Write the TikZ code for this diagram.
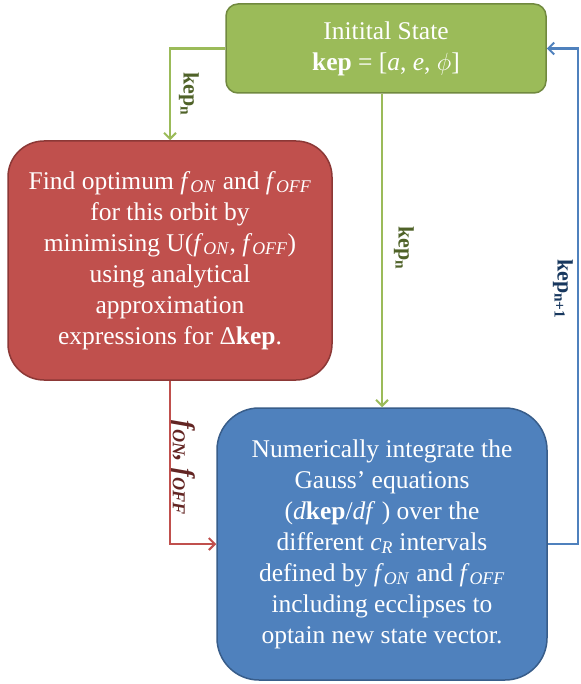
\documentclass[tikz,border=0pt]{standalone}
\usepackage{fontspec}
\setmainfont{Liberation Serif}
\newfontfamily\tms{Liberation Serif}
\usetikzlibrary{arrows.meta}
\definecolor{gfill}{HTML}{9BBB59}
\definecolor{gdraw}{HTML}{71893F}
\definecolor{rfill}{HTML}{C0504D}
\definecolor{rdraw}{HTML}{8C3836}
\definecolor{bfill}{HTML}{4F81BD}
\definecolor{bdraw}{HTML}{385D8A}
\definecolor{glab}{HTML}{4F6228}
\definecolor{rlab}{HTML}{632523}
\definecolor{blab}{HTML}{17375E}
\newcommand\fsb[1]{\textit{f}\textsubscript{\textit{#1}}}
\begin{document}
\begin{tikzpicture}[x=1pt,y=-1pt,
  box/.style={line width=1.5pt, text=white, align=center, inner sep=0pt,
    font=\tms\fontsize{25.5pt}{31pt}\selectfont},
  conn/.style={line width=2.2pt, -{Straight Barb[length=6pt,width=12pt,line width=2pt]}},
  lab/.style={rotate=-90, inner sep=0pt, font=\tms\fontsize{22pt}{24pt}\selectfont\bfseries}]
\useasboundingbox (0,0) rectangle (580,684);
\fill[white] (0,0) rectangle (580,684);
\node[box, fill=gfill, draw=gdraw, minimum width=320pt, minimum height=89pt, rounded corners=12pt] (init) at (386,48.5)
  {Initital State\\ \textbf{kep} = [\textit{a}, \textit{e}, $\phi$]};
\node[box, fill=rfill, draw=rdraw, minimum width=324pt, minimum height=239pt, rounded corners=36pt] (opt) at (170,260.5)
  {Find optimum \fsb{ON} and \fsb{OFF}\\ for this orbit by\\ minimising U(\fsb{ON}, \fsb{OFF})\\ using analytical\\ approximation\\ expressions for Δ\textbf{kep}.};
\node[box, fill=bfill, draw=bdraw, minimum width=330pt, minimum height=272pt, rounded corners=42pt] (integ) at (382,544)
  {Numerically integrate the\\ Gauss’ equations\\ (\textit{d}\textbf{kep}/\textit{df} ) over the\\ different \textit{c}\textsubscript{\textit{R}} intervals\\ defined by \fsb{ON} and \fsb{OFF}\\ including ecclipses to\\ optain new state vector.};
\coordinate (rt) at (578,544);
\draw[conn, gfill] (init.west) -| (opt.north);
\draw[conn, gfill] (init.south -| integ.north) -- (integ.north);
\draw[conn, rfill] (opt.south) |- (integ.west);
\draw[conn, bfill] (integ.east) -- (rt) |- (init.east);
\node[lab, text=glab] (l1) at (189,94) {kep\textsubscript{n}};
\node[lab, text=glab] (l2) at (404,248) {kep\textsubscript{n}};
\node[lab, text=blab] (l3) at (563,289) {kep\textsubscript{n+1}};
\node[lab, text=rlab, font=\tms\fontsize{26pt}{28pt}\selectfont\bfseries\itshape] (l4) at (183,468) {f\textsubscript{ON}, f\textsubscript{OFF}};
\end{tikzpicture}
\end{document}
